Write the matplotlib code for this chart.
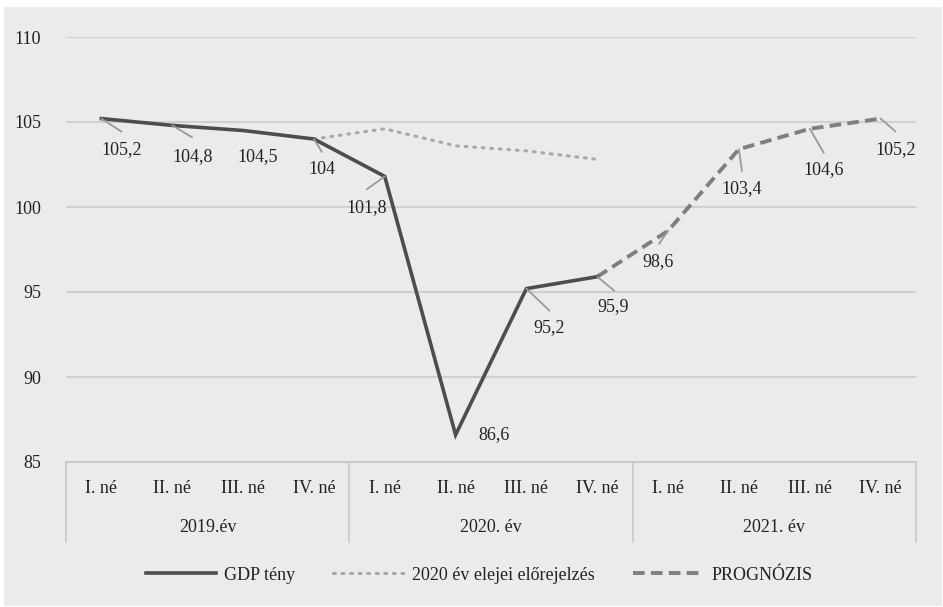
import matplotlib
matplotlib.use("Agg")
import matplotlib.pyplot as plt
from matplotlib.lines import Line2D
from matplotlib.patches import Rectangle

# ---- data ----
quarters = ["I. né", "II. né", "III. né", "IV. né"]
years = ["2019.év", "2020. év", "2021. év"]
gdp_idx = [0, 1, 2, 3, 4, 5, 6, 7]
gdp_vals = [105.2, 104.8, 104.5, 104.0, 101.8, 86.6, 95.2, 95.9]
fc2020_idx = [3, 4, 5, 6, 7]
fc2020_vals = [104.0, 104.6, 103.6, 103.3, 102.8]
prog_idx = [7, 8, 9, 10, 11]
prog_vals = [95.9, 98.6, 103.4, 104.6, 105.2]
label_idx = [0, 1, 2, 3, 4, 5, 6, 7, 8, 9, 10, 11]
label_vals = [105.2, 104.8, 104.5, 104.0, 101.8, 86.6, 95.2, 95.9, 98.6, 103.4, 104.6, 105.2]
label_text = ["105,2", "104,8", "104,5", "104", "101,8", "86,6", "95,2", "95,9",
              "98,6", "103,4", "104,6", "105,2"]
# label text offsets and leader-line end offsets (pixels)
text_off = [(20, -31), (20, -31), (15, -26), (8, -30), (-18, -31), (38, 0),
            (23, -39), (16, -30), (-10, -31), (3, -39), (14, -41), (15, -31)]
leader_off = [(20, -13), (20, -12), None, (8, -13), (-18, -13), None,
              (23, -22), (17, -14), (-9, -13), (3, -22), (14, -24), (15, -13)]

plt.rcParams['font.family'] = 'serif'
plt.rcParams['font.serif'] = ['Liberation Serif', 'DejaVu Serif']
FS = 13

W, H = 943, 607
fig = plt.figure(figsize=(W / 100, H / 100), dpi=100)
fig.patch.set_facecolor('white')
bg = '#ebebeb'
fig.patches.append(Rectangle((4 / W, 1 / H), (938) / W, (599) / H,
                             transform=fig.transFigure, facecolor=bg,
                             edgecolor='none', zorder=-10))

ax = fig.add_axes([66 / W, (H - 462) / H, 850 / W, 425 / H])
ax.set_facecolor(bg)
ax.patch.set_alpha(0)
ax.set_xlim(0, 12)
ax.set_ylim(85, 110)
ax.set_yticks([85, 90, 95, 100, 105, 110])
ax.set_yticklabels(["85", "90", "95", "100", "105", "110"])
ax.tick_params(axis='y', length=0, pad=18, labelsize=FS, colors='#222222')
ax.set_xticks([])
for s in ['top', 'right', 'left']:
    ax.spines[s].set_visible(False)
ax.spines['bottom'].set_color('#c8c8c8')
ax.spines['bottom'].set_linewidth(1.5)
for yv in [90, 95, 100, 105, 110]:
    ax.axhline(yv, color='#d0d0d0', lw=1.5, zorder=0)

# category axis
xt = ax.get_xaxis_transform()
for yi, yr in enumerate(years):
    for qi, q in enumerate(quarters):
        i = yi * 4 + qi
        ax.text(i + 0.5, -0.0635, q, transform=xt, ha='center', va='center',
                fontsize=FS, color='#222222')
    ax.text(yi * 4 + 2, -0.155, yr, transform=xt, ha='center', va='center',
            fontsize=FS, color='#222222')
for b in range(0, 13, 4):
    ax.add_line(Line2D([b, b], [0, -0.188], transform=xt, color='#c8c8c8',
                       lw=1.2, clip_on=False))

# series
x = lambda idx: [i + 0.5 for i in idx]
ax.plot(x(fc2020_idx), fc2020_vals, color='#a8a8a8', lw=2.2,
        linestyle=(0, (0.6, 2.2)), dash_capstyle='round', zorder=2)
ax.plot(x(prog_idx), prog_vals, color='#7f7f7f', lw=2.8,
        linestyle=(0, (3, 1.6)), zorder=3)
ax.plot(x(gdp_idx), gdp_vals, color='#4d4d4d', lw=2.6, zorder=4,
        solid_joinstyle='miter')

# data labels
for i, v, t, to, lo in zip(label_idx, label_vals, label_text, text_off, leader_off):
    xp = i + 0.5
    if lo is not None:
        ax.annotate('', xy=(xp, v), xytext=lo, textcoords='offset pixels',
                    arrowprops=dict(arrowstyle='-', color='#9a9a9a', lw=1.3,
                                    shrinkA=0, shrinkB=0), zorder=5)
    ax.annotate(t, xy=(xp, v), xytext=to, textcoords='offset pixels',
                ha='center', va='center', fontsize=FS, color='#222222',
                annotation_clip=False, zorder=6)

# legend
handles = [
    Line2D([], [], color='#4d4d4d', lw=2.6),
    Line2D([], [], color='#a8a8a8', lw=2.2, linestyle=(0, (0.6, 2.2)),
           dash_capstyle='round'),
    Line2D([], [], color='#7f7f7f', lw=2.8, linestyle=(0, (3, 1.6))),
]
labels = ["GDP tény", "2020 év elejei előrejelzés", "PROGNÓZIS"]
fig.legend(handles, labels, loc='center', ncol=3, frameon=False,
           bbox_to_anchor=(0.508, 1 - 575 / H), fontsize=FS,
           handlelength=3.9, handletextpad=0.45, columnspacing=2.1,
           labelcolor='#222222')

fig.savefig('out.png', dpi=100, facecolor=fig.get_facecolor())
